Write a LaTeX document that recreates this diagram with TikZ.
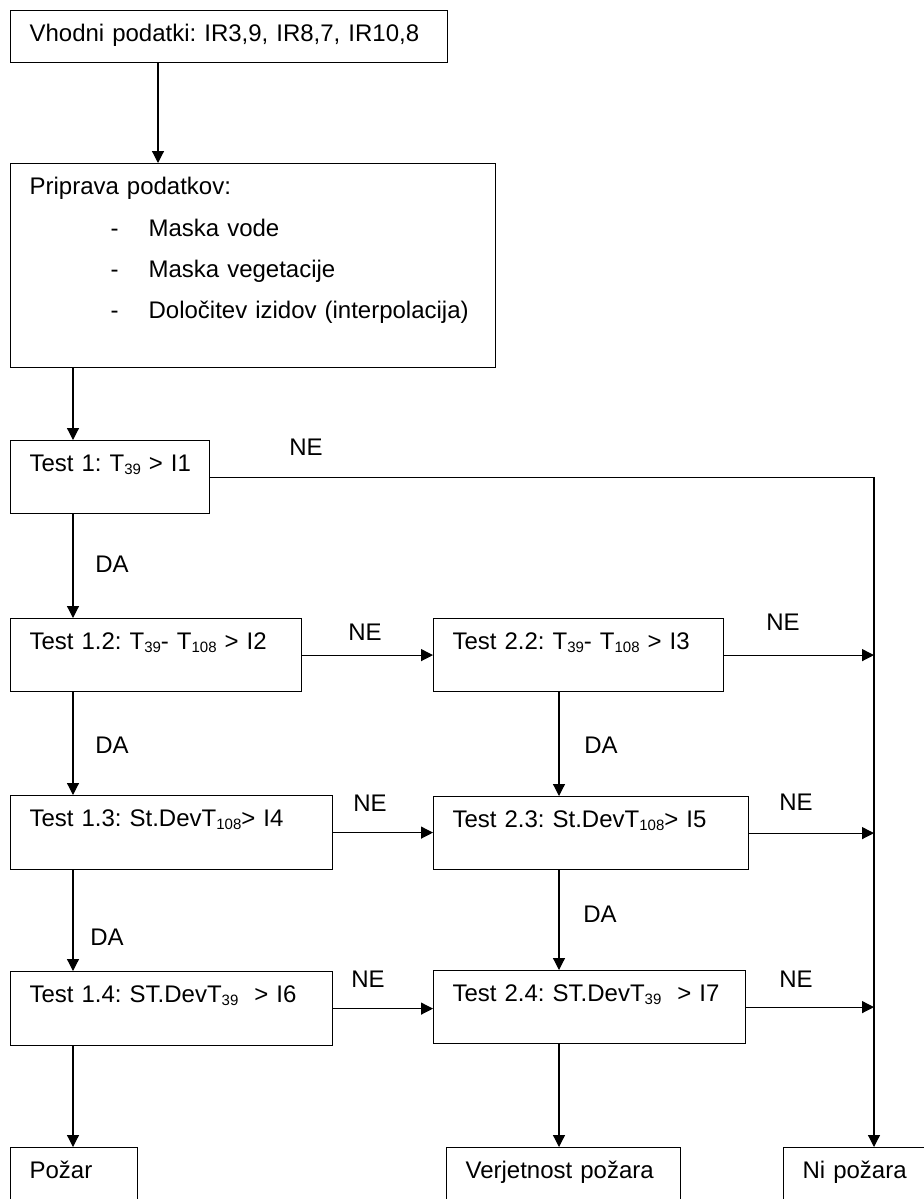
\documentclass[tikz,border=0pt]{standalone}
\usepackage{fontspec}
\setmainfont{Liberation Sans}
\usetikzlibrary{arrows.meta}

\newcommand{\sbs}[1]{\raisebox{-1.7pt}{\fontsize{7.5}{8}\selectfont #1}}

\tikzset{
  box/.style={draw,line width=0.6pt,anchor=north west,align=left,inner xsep=9.5pt,inner ysep=0pt,text height=15.3pt,text depth=21.2pt,font=\fontsize{12}{14}\selectfont\frenchspacing},
  lbl/.style={font=\fontsize{12}{14}\selectfont,inner sep=0pt},
  arr/.style={line width=0.6pt,-{Triangle[length=6pt,width=6pt]}}
}

\begin{document}
\begin{tikzpicture}[x=0.5pt,y=-0.5pt]
\useasboundingbox (0,0) rectangle (924,1199);
% columns for the vertical connectors
\coordinate (c0) at (158,0);
\coordinate (c1) at (73,0);
\coordinate (c2) at (559,0);
\coordinate (c3) at (874,0);

\node[box,text width=199.5pt,text depth=10.7pt] (vhod) at (10,10) {Vhodni podatki: IR3,9, IR8,7, IR10,8};
\node[box,text width=223.5pt,text height=15.5pt,text depth=86.5pt,font=\fontsize{12}{20.7}\selectfont\frenchspacing] (prip) at (10,163)
  {Priprava podatkov:\\
   \hspace*{40.5pt}\makebox[19pt][l]{-}Maska vode\\
   \hspace*{40.5pt}\makebox[19pt][l]{-}Maska vegetacije\\
   \hspace*{40.5pt}\makebox[19pt][l]{-}Določitev izidov (interpolacija)};

\node[box,text width=80.5pt] (t1) at (10,440) {\mbox{Test 1: T\sbs{39} > I1}};
\node[box,text width=126.5pt] (t12) at (10,618) {\mbox{Test 1.2: T\sbs{39}- T\sbs{108} > I2}};
\node[box,text width=126pt] (t22) at (433,618) {\mbox{Test 2.2: T\sbs{39}- T\sbs{108} > I3}};
\node[box,text width=142pt,text depth=21.7pt] (t13) at (10,795) {\mbox{Test 1.3: St.DevT\sbs{108}> I4}};
\node[box,text width=138.5pt] (t23) at (433,796) {\mbox{Test 2.3: St.DevT\sbs{108}> I5}};
\node[box,text width=142pt,text depth=21.7pt] (t14) at (10,971) {\mbox{Test 1.4: ST.DevT\sbs{39}\ \ > I6}};
\node[box,text width=137pt] (t24) at (433,970) {\mbox{Test 2.4: ST.DevT\sbs{39}\ \ > I7}};
\node[box,text width=44.5pt] (pozar) at (10,1147) {Požar};
\node[box,text width=98pt] (verj) at (446,1147) {Verjetnost požara};
\node[box,text width=61pt] (nip) at (783,1147) {Ni požara};

% DA
\draw[arr] (vhod.south -| c0) -- (prip.north -| c0);
\draw[arr] (prip.south -| c1) -- (t1.north -| c1);
\draw[arr] (t1.south -| c1) -- (t12.north -| c1);
\draw[arr] (t12.south -| c1) -- (t13.north -| c1);
\draw[arr] (t13.south -| c1) -- (t14.north -| c1);
\draw[arr] (t14.south -| c1) -- (pozar.north -| c1);
\draw[arr] (t22.south -| c2) -- (t23.north -| c2);
\draw[arr] (t23.south -| c2) -- (t24.north -| c2);
\draw[arr] (t24.south -| c2) -- (verj.north -| c2);

% NE
\draw[arr] (t12.east) -- (t12.east -| t22.west);
\draw[arr] (t13.east) -- (t13.east -| t23.west);
\draw[arr] (t14.east) -- (t14.east -| t24.west);
\draw[arr] (t1.east) -| (nip.north -| c3);
\draw[arr] (t22.east) -- (t22.east -| c3);
\draw[arr] (t23.east) -- (t23.east -| c3);
\draw[arr] (t24.east) -- (t24.east -| c3);

\node[lbl] (ne1) at (306,447) {NE};
\node[lbl] (da1) at (112,564) {DA};
\node[lbl] (ne2) at (365,632) {NE};
\node[lbl] (ne3) at (783,622) {NE};
\node[lbl] (da2) at (112,745) {DA};
\node[lbl] (da3) at (601,745) {DA};
\node[lbl] (ne4) at (370,803) {NE};
\node[lbl] (ne5) at (796,802) {NE};
\node[lbl] (da4) at (107,937) {DA};
\node[lbl] (da5) at (600,914) {DA};
\node[lbl] (ne6) at (368,979) {NE};
\node[lbl] (ne7) at (796,979) {NE};
\end{tikzpicture}
\end{document}
